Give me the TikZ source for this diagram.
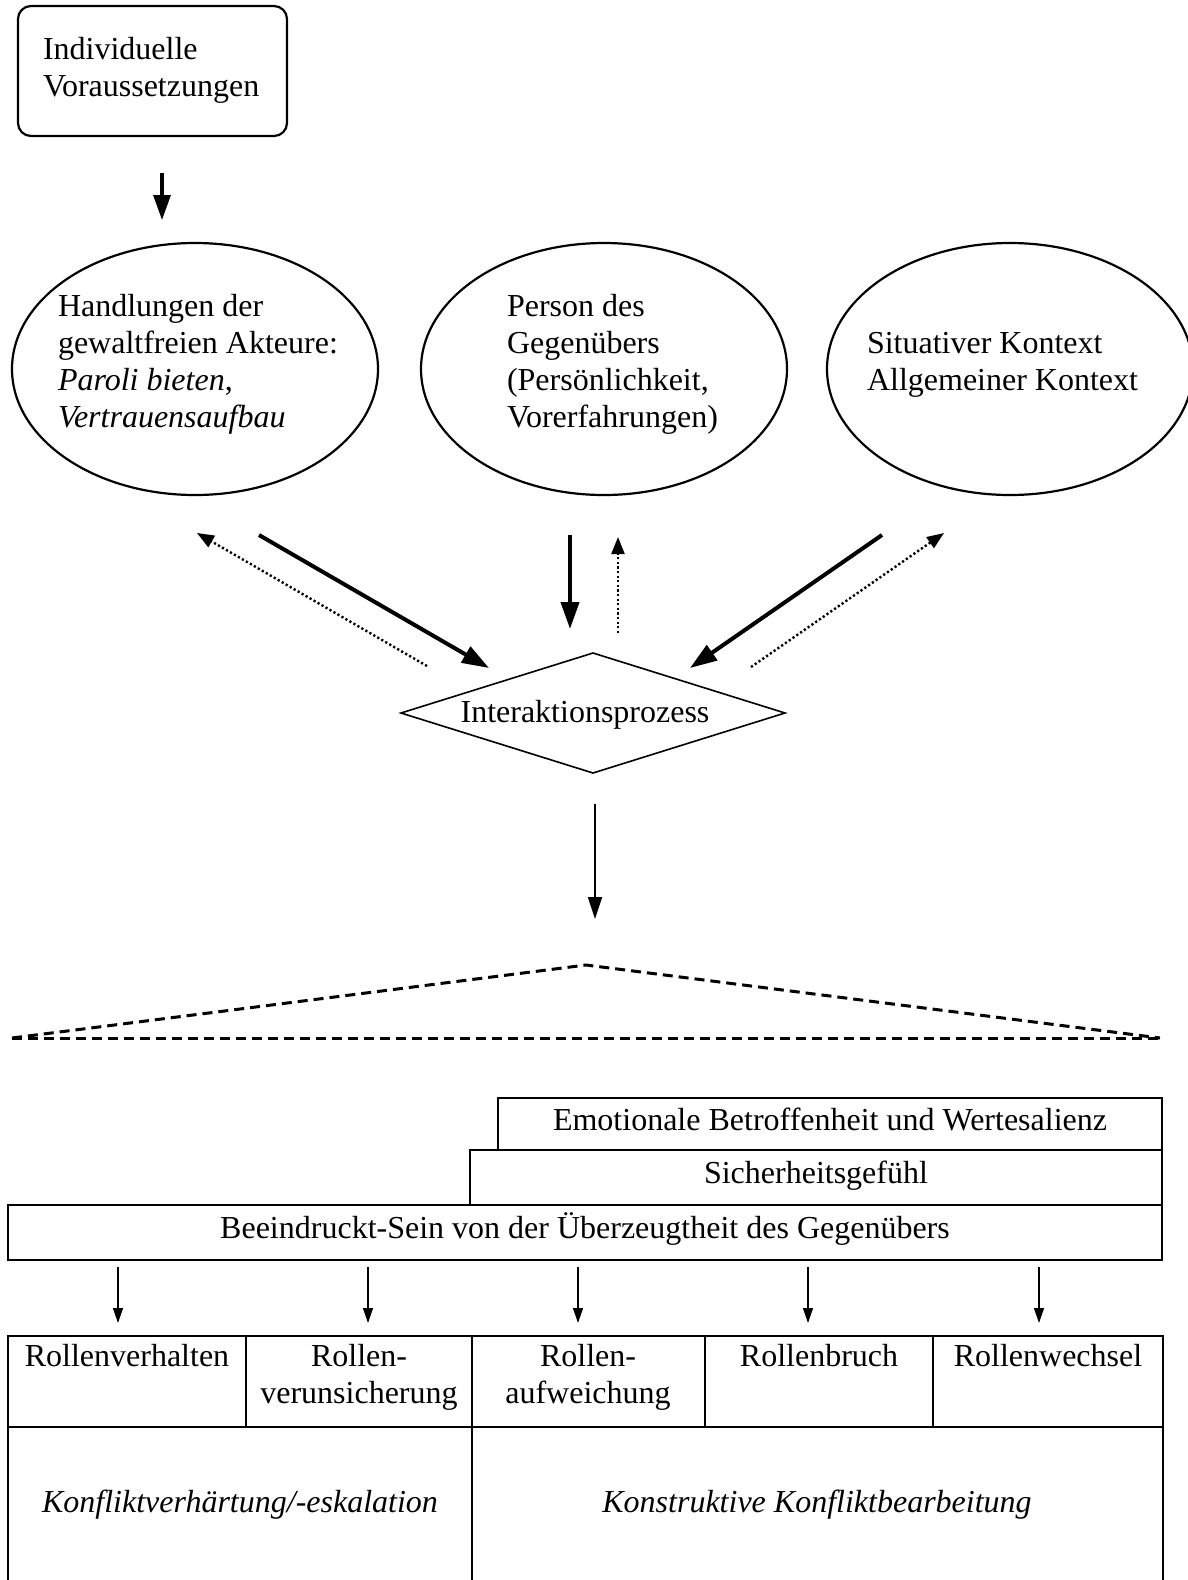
\documentclass[tikz,border=0pt]{standalone}
\usepackage{fontspec}
\setmainfont{Liberation Serif}
\usetikzlibrary{shapes.geometric,arrows.meta}
\begin{document}
\begin{tikzpicture}[x=1pt,y=-1pt,
  every node/.style={font=\fontsize{32}{36.7}\selectfont, inner sep=0pt, outer sep=0pt},
  txt/.style={anchor=base west, align=left},
  ctxt/.style={anchor=base, align=center},
  ln/.style={line width=2pt},
  ell/.style={draw, ellipse, line width=2.2pt, minimum width=366pt, minimum height=252pt},
  boxr/.style={draw, rectangle, line width=2pt, anchor=north west},
  toparr/.style={line width=3.2pt, -{Triangle[length=25pt,width=17pt]}},
  thickarr/.style={line width=4pt, -{Triangle[length=27pt,width=18pt]}},
  dotarr/.style={line width=2.4pt, dash pattern=on 2.2pt off 2.4pt, -{Triangle[length=17pt,width=13pt]}},
  thinarr/.style={line width=1.7pt, -{Triangle[length=22pt,width=14pt]}},
  smallarr/.style={line width=1.4pt, -{Triangle[length=15pt,width=10pt]}},
  dashln/.style={line width=3pt, dash pattern=on 10pt off 6pt}
]
\useasboundingbox (0,0) rectangle (1188,1580);

% top box
\node[draw, rectangle, rounded corners=13pt, line width=2.2pt, anchor=north west,
      minimum width=269pt, minimum height=130pt] (ind) at (18,6) {};
\node[txt] (indtxt) at (43,96) {Individuelle\\Voraussetzungen};
\coordinate (a1s) at (162,173);
\coordinate (a1e) at (162,220);
\draw[toparr] (a1s) -- (a1e);

% ellipses
\node[ell] (e1) at (195,369) {};
\node[ell] (e2) at (604,369) {};
\node[ell] (e3) at (1010,369) {};
\node[txt] (e1t) at (58,427) {Handlungen der\\gewaltfreien Akteure:\\\textit{Paroli bieten},\\\textit{Vertrauensaufbau}};
\node[txt] (e2t) at (507,427) {Person des\\Gegenübers\\(Persönlichkeit,\\Vorerfahrungen)};
\node[txt] (e3t) at (867,390) {Situativer Kontext\\Allgemeiner Kontext};

% arrows to / from interaction
\coordinate (l1s) at (427,666); \coordinate (l1e) at (197,533);
\coordinate (l2s) at (259,535); \coordinate (l2e) at (489,668);
\coordinate (m1s) at (570,535); \coordinate (m1e) at (570,629);
\coordinate (m2s) at (618,633); \coordinate (m2e) at (618,537);
\coordinate (r1s) at (882,535); \coordinate (r1e) at (690,668);
\coordinate (r2s) at (751,667); \coordinate (r2e) at (944,533);
\draw[dotarr] (l1s) -- (l1e);
\draw[thickarr] (l2s) -- (l2e);
\draw[thickarr] (m1s) -- (m1e);
\draw[dotarr] (m2s) -- (m2e);
\draw[thickarr] (r1s) -- (r1e);
\draw[dotarr] (r2s) -- (r2e);

% diamond
\node[draw, diamond, line width=1.6pt, minimum width=384pt, minimum height=120pt] (ip) at (593,713) {};
\node[ctxt] (iptxt) at (585,722) {Interaktionsprozess};
\coordinate (d1s) at (595,804);
\coordinate (d1e) at (595,919);
\draw[thinarr] (d1s) -- (d1e);

% dashed triangle
\coordinate (apex) at (586,965);
\coordinate (dl) at (12,1038);
\coordinate (dr) at (1160,1038);
\draw[dashln] (dl) -- (apex) -- (dr);
\draw[dashln] (dl) -- (dr);

% stacked boxes
\node[boxr, minimum width=664pt, minimum height=52pt] (emo) at (498,1098) {};
\node[boxr, minimum width=692pt, minimum height=55pt] (sich) at (470,1150) {};
\node[boxr, minimum width=1154pt, minimum height=55pt] (bee) at (8,1205) {};
\node[ctxt] (emot) at (830,1130) {Emotionale Betroffenheit und Wertesalienz};
\node[ctxt] (sicht) at (816,1183) {Sicherheitsgefühl};
\node[ctxt] (beet) at (585,1238) {Beeindruckt-Sein von der Überzeugtheit des Gegenübers};

% small arrows
\foreach \x [count=\i] in {118,368,578,808,1039}{
  \coordinate (s\i s) at (\x,1267);
  \coordinate (s\i e) at (\x,1323);
  \draw[smallarr] (s\i s) -- (s\i e);
}

% table
\draw[ln] (8,1580) -- (8,1336) -- (1163,1336) -- (1163,1580);
\draw[ln] (8,1427) -- (1163,1427);
\draw[line width=1.6pt] (246,1336) -- (246,1427);
\draw[line width=1.6pt] (472,1336) -- (472,1580);
\draw[line width=1.6pt] (705,1336) -- (705,1427);
\draw[line width=1.6pt] (933,1336) -- (933,1427);
\node[ctxt] (c1) at (127,1366) {Rollenverhalten};
\node[ctxt] (c2) at (359,1403) {Rollen-\\verunsicherung};
\node[ctxt] (c3) at (588,1403) {Rollen-\\aufweichung};
\node[ctxt] (c4) at (819,1366) {Rollenbruch};
\node[ctxt] (c5) at (1048,1366) {Rollenwechsel};
\node[ctxt] (k1) at (240,1512) {\textit{Konfliktverhärtung/-eskalation}};
\node[ctxt] (k2) at (817,1512) {\textit{Konstruktive Konfliktbearbeitung}};
\end{tikzpicture}
\end{document}
